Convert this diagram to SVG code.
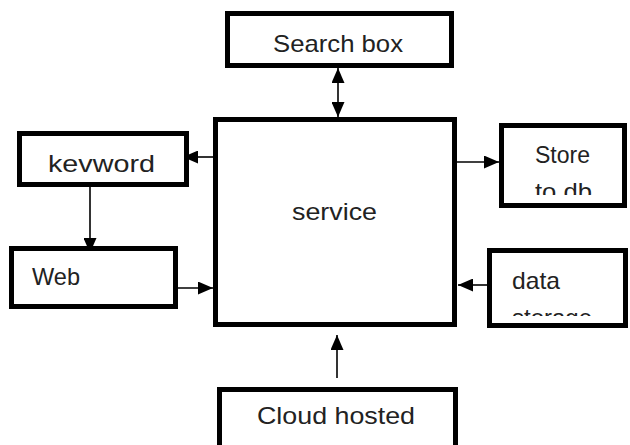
<svg xmlns="http://www.w3.org/2000/svg" width="630" height="445" viewBox="0 0 630 445">
<style>
.box{fill:#fff;stroke:#000;stroke-width:5}
.lbl{font-family:"Liberation Sans",Arial,sans-serif;font-size:24px;fill:#222}
.conn{stroke:#000;stroke-width:1.6;fill:none}
</style>
<defs>
<marker id="ah" viewBox="0 0 15 13" refX="15" refY="6.5" markerWidth="15" markerHeight="13" markerUnits="userSpaceOnUse" orient="auto-start-reverse">
<path d="M0,0 L15,6.5 L0,13 Z" fill="#000"/>
</marker>
<clipPath id="clipStore"><rect x="500" y="120" width="130" height="75"/></clipPath>
<clipPath id="clipData"><rect x="488" y="245" width="142" height="71"/></clipPath>
</defs>
<rect width="630" height="445" fill="#fff"/>
<g id="connectors">
<line class="conn" x1="338" y1="68" x2="338" y2="117" marker-start="url(#ah)" marker-end="url(#ah)"/>
<line class="conn" x1="215" y1="157" x2="183" y2="157" marker-end="url(#ah)"/>
<line class="conn" x1="90" y1="187" x2="90" y2="253" marker-end="url(#ah)"/>
<line class="conn" x1="178" y1="288" x2="213" y2="288" marker-end="url(#ah)"/>
<line class="conn" x1="457" y1="162" x2="499" y2="162" marker-end="url(#ah)"/>
<line class="conn" x1="487" y1="285" x2="458" y2="285" marker-end="url(#ah)"/>
<line class="conn" x1="337" y1="378" x2="337" y2="335" marker-end="url(#ah)"/>
</g>
<g id="search">
<rect class="box" x="227.5" y="13.5" width="224" height="52"/>
<text class="lbl" x="273" y="52" textLength="130" lengthAdjust="spacingAndGlyphs">Search box</text>
</g>
<g id="service">
<rect class="box" x="215.5" y="119.5" width="239" height="205"/>
<text class="lbl" x="292" y="220" textLength="85" lengthAdjust="spacingAndGlyphs">service</text>
</g>
<g id="keyword">
<rect class="box" x="19.5" y="133.5" width="167" height="51"/>
<text class="lbl" x="48" y="172" textLength="107" lengthAdjust="spacingAndGlyphs">kevword</text>
</g>
<g id="web">
<rect class="box" x="11.5" y="248.5" width="164" height="58"/>
<text class="lbl" x="32" y="285" textLength="48" lengthAdjust="spacingAndGlyphs">Web</text>
</g>
<g id="store">
<rect class="box" x="501.5" y="125.5" width="123" height="80"/>
<g clip-path="url(#clipStore)">
<text class="lbl" x="535" y="163" textLength="55" lengthAdjust="spacingAndGlyphs">Store</text>
<text class="lbl" x="535" y="200" textLength="57" lengthAdjust="spacingAndGlyphs">to db</text>
</g>
</g>
<g id="datastorage">
<rect class="box" x="489.5" y="250.5" width="136" height="75"/>
<g clip-path="url(#clipData)">
<text class="lbl" x="512" y="289" textLength="48" lengthAdjust="spacingAndGlyphs">data</text>
<text class="lbl" x="512" y="326" textLength="80" lengthAdjust="spacingAndGlyphs">storage</text>
</g>
</g>
<g id="cloud">
<rect class="box" x="219.5" y="389.5" width="236" height="60"/>
<text class="lbl" x="257" y="424" textLength="158" lengthAdjust="spacingAndGlyphs">Cloud hosted</text>
</g>
</svg>
